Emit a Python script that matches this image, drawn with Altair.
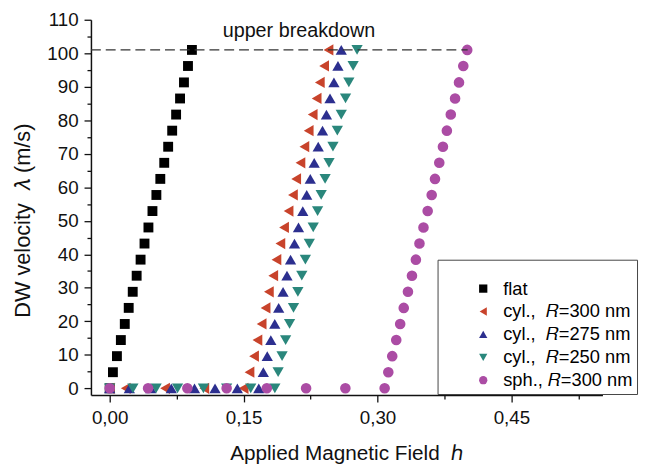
import altair as alt
import pandas as pd

# ---- data ----
series_order = ["flat", "cyl300", "cyl275", "cyl250", "sph300"]
series_labels = ["flat",
                 "cyl.,\u00a0 \U0001D445=300 nm",
                 "cyl.,\u00a0 \U0001D445=275 nm",
                 "cyl.,\u00a0 \U0001D445=250 nm",
                 "sph.,\u00a0\U0001D445=300 nm"]
series_shapes = ["square", "triangle-left", "triangle-up", "triangle-down", "circle"]
series_colors = ["#000000", "#c8432b", "#2c2f8f", "#2a877c", "#ab4ca4"]
series_sizes = [100, 130, 130, 130, 115]

# velocity levels (m/s) of the rising branch
velocity = [4.8, 9.6, 14.4, 19.2, 24.0, 28.8, 33.6, 38.4, 43.2, 48.0, 52.9,
            57.7, 62.5, 67.3, 72.1, 76.9, 81.7, 86.5, 91.3, 96.2, 101.0]

flat_h = [0.0036, 0.0081, 0.0125, 0.0169, 0.0213, 0.0258, 0.0302, 0.0346, 0.0390,
          0.0434, 0.0479, 0.0523, 0.0567, 0.0611, 0.0655, 0.0700, 0.0744, 0.0788,
          0.0832, 0.0877, 0.0921]
cyl300_h = [0.1566, 0.1617, 0.1655, 0.1702, 0.1746, 0.1783, 0.1832, 0.1868, 0.1912,
            0.1953, 0.2004, 0.2053, 0.2089, 0.2137, 0.2181, 0.2229, 0.2274, 0.2318,
            0.2354, 0.2402, 0.2451]
cyl275_h = [0.1721, 0.1765, 0.1805, 0.1849, 0.1893, 0.1942, 0.1986, 0.2026, 0.2070,
            0.2115, 0.2163, 0.2207, 0.2247, 0.2291, 0.2336, 0.2384, 0.2428, 0.2468,
            0.2512, 0.2557, 0.2594]
cyl250_h = [0.1887, 0.1931, 0.1971, 0.2015, 0.2059, 0.2108, 0.2152, 0.2192, 0.2236,
            0.2280, 0.2329, 0.2369, 0.2413, 0.2457, 0.2501, 0.2550, 0.2594, 0.2642,
            0.2679, 0.2727, 0.2771]
sph300_h = [0.3121, 0.3165, 0.3210, 0.3254, 0.3294, 0.3341, 0.3386, 0.3430, 0.3470,
            0.3515, 0.3562, 0.3607, 0.3644, 0.3692, 0.3733, 0.3777, 0.3821, 0.3869,
            0.3913, 0.3961, 0.4005]

# fields at which the wall velocity is still zero
flat_zero = [0.0]
cyl300_zero = [0.0, 0.018, 0.062, 0.106, 0.150]
cyl275_zero = [0.0, 0.022, 0.046, 0.069, 0.095, 0.118, 0.143, 0.167]
cyl250_zero = [0.0, 0.026, 0.052, 0.076, 0.105, 0.131, 0.158, 0.185]
sph300_zero = [0.0, 0.043, 0.087, 0.131, 0.176, 0.220, 0.264, 0.308]

breakdown_v = [101.0]
breakdown_h0 = [-0.021]
breakdown_h1 = [0.401]
annot_text = ["upper breakdown"]
annot_h = [0.212]
annot_v = [106.6]

x_major_ticks = [0.0, 0.15, 0.30, 0.45]
x_minor_ticks = [0.075, 0.225, 0.375, 0.525]
y_major_ticks = list(range(0, 111, 10))
y_minor_ticks = list(range(5, 110, 10))

# ---- build tables ----
rising = {"flat": flat_h, "cyl300": cyl300_h, "cyl275": cyl275_h,
          "cyl250": cyl250_h, "sph300": sph300_h}
zeros = {"flat": flat_zero, "cyl300": cyl300_zero, "cyl275": cyl275_zero,
         "cyl250": cyl250_zero, "sph300": sph300_zero}
rows = []
for key, lab, sz in zip(series_order, series_labels, series_sizes):
    for h in zeros[key]:
        rows.append({"series": lab, "h": h, "v": 0.0, "sz": sz})
    for h, v in zip(rising[key], velocity):
        rows.append({"series": lab, "h": h, "v": v, "sz": sz})
df = pd.DataFrame(rows)

rule_df = pd.DataFrame({"h0": breakdown_h0, "h1": breakdown_h1, "v": breakdown_v})
text_df = pd.DataFrame({"t": annot_text, "h": annot_h, "v": annot_v})

FONT = "Liberation Sans"

xscale = alt.Scale(domain=[-0.021, 0.552], nice=False, zero=False)
yscale = alt.Scale(domain=[-2, 110], nice=False, zero=False)

x_axis = alt.Axis(
    values=x_major_ticks, orient="bottom",
    labelExpr="replace(format(datum.value, '.2f'), '.', ',')",
    tickSize=7, labelPadding=7, titlePadding=15, grid=False, labelOverlap=False,
    title="Applied Magnetic Field\u00a0 \u210E",
)
y_axis = alt.Axis(
    values=y_major_ticks, orient="left",
    tickSize=7, labelPadding=6, titlePadding=13, grid=False, titleY=203,
    labelOverlap=False,
    title="DW velocity\u00a0 \U0001D706 (m/s)", titleFontSize=22,
)
x_minor_axis = alt.Axis(values=x_minor_ticks, orient="bottom", labels=False,
                        domain=False, tickSize=4, grid=False, title=None)
y_minor_axis = alt.Axis(values=y_minor_ticks, orient="left", labels=False,
                        domain=False, tickSize=4, grid=False, title=None)

points = alt.Chart(df).mark_point(filled=True, opacity=1, strokeWidth=0).encode(
    x=alt.X("h:Q", scale=xscale, axis=x_axis),
    y=alt.Y("v:Q", scale=yscale, axis=y_axis),
    color=alt.Color("series:N",
                    scale=alt.Scale(domain=series_labels, range=series_colors),
                    sort=series_labels,
                    legend=alt.Legend(title=" ", titleFontSize=14, titlePadding=2,
                                      orient="none", legendX=351, legendY=243,
                                      direction="vertical",
                                      strokeColor="#444",
                                      padding=4, symbolOffset=33, labelOffset=11,
                                      symbolSize=70, rowPadding=4.2,
                                      labelFontSize=18.5, labelFont=FONT, labelLimit=400)),
    shape=alt.Shape("series:N",
                    scale=alt.Scale(domain=series_labels, range=series_shapes),
                    sort=series_labels),
    size=alt.Size("sz:Q", scale=None, legend=None),
    order=alt.Order("rank:Q"),
).transform_window(rank="row_number()")

rule = alt.Chart(rule_df).mark_rule(strokeDash=[10, 5], color="#333333", strokeWidth=1.3).encode(
    x=alt.X("h0:Q", scale=xscale, axis=x_minor_axis),
    x2="h1:Q",
    y=alt.Y("v:Q", scale=yscale, axis=y_minor_axis),
)

text = alt.Chart(text_df).mark_text(fontSize=20, font=FONT, align="center",
                                    baseline="middle", color="#111").encode(
    x=alt.X("h:Q", scale=xscale, axis=None),
    y=alt.Y("v:Q", scale=yscale, axis=None),
    text="t:N",
)

chart = alt.layer(points, rule, text).resolve_axis(
    x="independent", y="independent"
).properties(
    width=518, height=380,
    autosize=alt.AutoSizeParams(type="none"),
    padding={"left": 84, "top": 9, "right": 37, "bottom": 69},
).configure_view(stroke=None).configure_axis(
    labelFont=FONT, titleFont=FONT, labelFontSize=19, titleFontSize=21,
    titleFontWeight="normal", labelColor="#111", titleColor="#111",
    domainColor="#111", tickColor="#111", domainWidth=1.5, tickWidth=1.3,
    labelFlush=False, labelOverlap=False,
)

chart.save("out.html", embed_options={"renderer": "svg", "actions": False})
